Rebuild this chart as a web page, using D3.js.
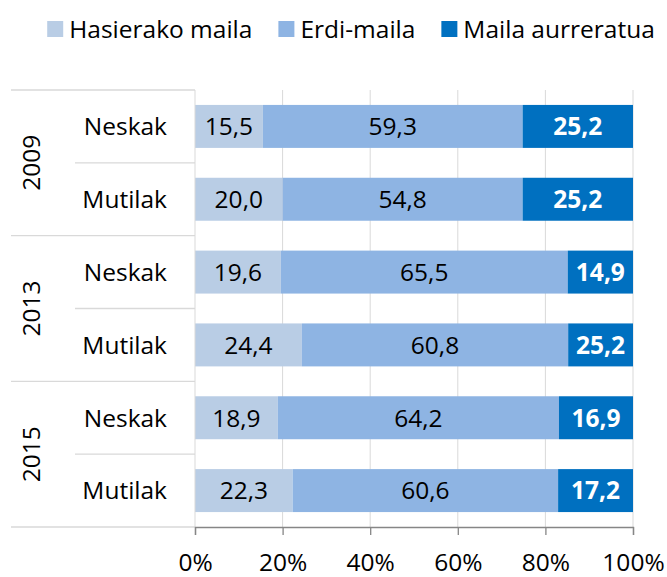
<!DOCTYPE html>
<html>
<head>
<meta charset="utf-8">
<script src="https://cdn.jsdelivr.net/npm/d3@7"></script>
<style>
  body { margin: 0; background: #fff; }
  svg text { font-family: "Open Sans", Lato, sans-serif; fill: #000; }
</style>
</head>
<body>
<svg id="chart" width="667" height="577"></svg>
<script>
const years = ["2009", "2013", "2015"];
const genders = ["Neskak", "Mutilak"];
const seriesNames = ["Hasierako maila", "Erdi-maila", "Maila aurreratua"];
const colors = ["#b9cde5", "#8eb4e3", "#0070c0"];

// one value per bar, order: 2009 Neskak, 2009 Mutilak, 2013 Neskak, ...
const hasierako = [15.5, 20.0, 19.6, 24.4, 18.9, 22.3];
const erdi = [59.3, 54.8, 65.5, 60.8, 64.2, 60.6];
const aurreratua = [25.2, 25.2, 14.9, 25.2, 16.9, 17.2];
const xTicks = [0, 20, 40, 60, 80, 100];

const svg = d3.select("#chart");
const fontSize = 24.5;

const margin = { top: 90, left: 195, right: 34, bottom: 50 };
const width = 667 - margin.left - margin.right;
const height = 577 - margin.top - margin.bottom;

const rows = [];
years.forEach((y, i) => {
  genders.forEach((g, j) => {
    const k = i * genders.length + j;
    rows.push({ key: y + "-" + g, year: y, gender: g,
      s0: hasierako[k], s1: erdi[k], s2: aurreratua[k] });
  });
});

// axis stops at 100%, so a stack that goes past it is cut off there
const x = d3.scaleLinear().domain([0, 100]).range([margin.left, margin.left + width]).clamp(true);
const y = d3.scaleBand().domain(rows.map(d => d.key))
  .range([margin.top, margin.top + height]).paddingInner(0.41).paddingOuter(0.205);

const keys = ["s0", "s1", "s2"];
const stacked = d3.stack().keys(keys)(rows);

const fmt = v => d3.format(".1f")(v).replace(".", ",");

// gridlines
svg.append("g")
  .selectAll("line")
  .data(xTicks.slice(1))
  .join("line")
  .attr("x1", d => x(d)).attr("x2", d => x(d))
  .attr("y1", margin.top).attr("y2", margin.top + height)
  .attr("stroke", "#d9d9d9").attr("stroke-width", 1);

// bars
const layers = svg.append("g")
  .selectAll("g")
  .data(stacked)
  .join("g")
  .attr("fill", (d, i) => colors[i]);

layers.selectAll("rect")
  .data(d => d)
  .join("rect")
  .attr("x", d => x(d[0]))
  .attr("width", d => x(d[1]) - x(d[0]))
  .attr("y", d => y(d.data.key))
  .attr("height", y.bandwidth());

// value labels, centred in the visible part of each segment
stacked.forEach((layer, i) => {
  svg.append("g")
    .selectAll("text")
    .data(layer)
    .join("text")
    .attr("x", d => (x(d[0]) + x(d[1])) / 2)
    .attr("y", d => y(d.data.key) + y.bandwidth() / 2)
    .attr("dy", "0.36em")
    .attr("text-anchor", "middle")
    .style("font-size", fontSize + "px")
    .style("font-weight", i === 2 ? "bold" : "normal")
    .style("fill", i === 2 ? "#fff" : "#000")
    .text(d => fmt(d.data[keys[i]]));
});

// vertical category axis line
svg.append("line")
  .attr("x1", margin.left).attr("x2", margin.left)
  .attr("y1", margin.top).attr("y2", margin.top + height)
  .attr("stroke", "#d9d9d9");

// category separators
const rowStep = y.step();
const yearH = rowStep * genders.length;
const sep = svg.append("g").attr("stroke", "#d9d9d9").attr("stroke-width", 1.3);
d3.range(years.length + 1).forEach(i => {
  const yy = margin.top + i * yearH;
  sep.append("line").attr("x1", 11).attr("x2", margin.left).attr("y1", yy).attr("y2", yy);
});
years.forEach((yr, i) => {
  const yy = margin.top + i * yearH + rowStep;
  sep.append("line").attr("x1", 75).attr("x2", margin.left).attr("y1", yy).attr("y2", yy);
});

// gender labels
svg.append("g")
  .selectAll("text")
  .data(rows)
  .join("text")
  .attr("x", 167)
  .attr("y", d => y(d.key) + y.bandwidth() / 2)
  .attr("dy", "0.36em")
  .attr("text-anchor", "end")
  .style("font-size", fontSize + "px")
  .text(d => d.gender);

// year labels
svg.append("g")
  .selectAll("text")
  .data(years)
  .join("text")
  .attr("transform", (d, i) => `translate(31,${margin.top + i * yearH + yearH / 2}) rotate(-90)`)
  .attr("dy", "0.36em")
  .attr("text-anchor", "middle")
  .style("font-size", fontSize + "px")
  .text(d => d);

// x axis
const xAxis = svg.append("g")
  .attr("transform", `translate(0,${margin.top + height})`)
  .call(d3.axisBottom(x).tickValues(xTicks).tickSize(8).tickPadding(19)
    .tickFormat(d => d + "%"));
xAxis.select(".domain").attr("stroke", "#868686").attr("stroke-width", 1.3);
xAxis.selectAll(".tick line").attr("stroke", "#868686").attr("stroke-width", 1.3);
xAxis.selectAll(".tick text")
  .style("font-size", fontSize + "px")
  .style("font-family", "'Open Sans', sans-serif")
  .attr("fill", "#000");

// legend
const legend = svg.append("g").attr("transform", "translate(0,29)");
const items = legend.selectAll("g")
  .data(seriesNames)
  .join("g");
items.append("rect")
  .attr("width", 16).attr("height", 16).attr("y", -8)
  .attr("fill", (d, i) => colors[i]);
items.append("text")
  .attr("x", 22)
  .attr("dy", "0.36em")
  .style("font-size", fontSize + "px")
  .text(d => d);
let cx = 0;
const offsets = [];
items.each(function () {
  offsets.push(cx);
  const w = this.querySelector("text").getComputedTextLength();
  cx += 22 + w + 26;
});
const total = cx - 26;
const start = 351 - total / 2;
items.attr("transform", (d, i) => `translate(${start + offsets[i]},0)`);
</script>
</body>
</html>
